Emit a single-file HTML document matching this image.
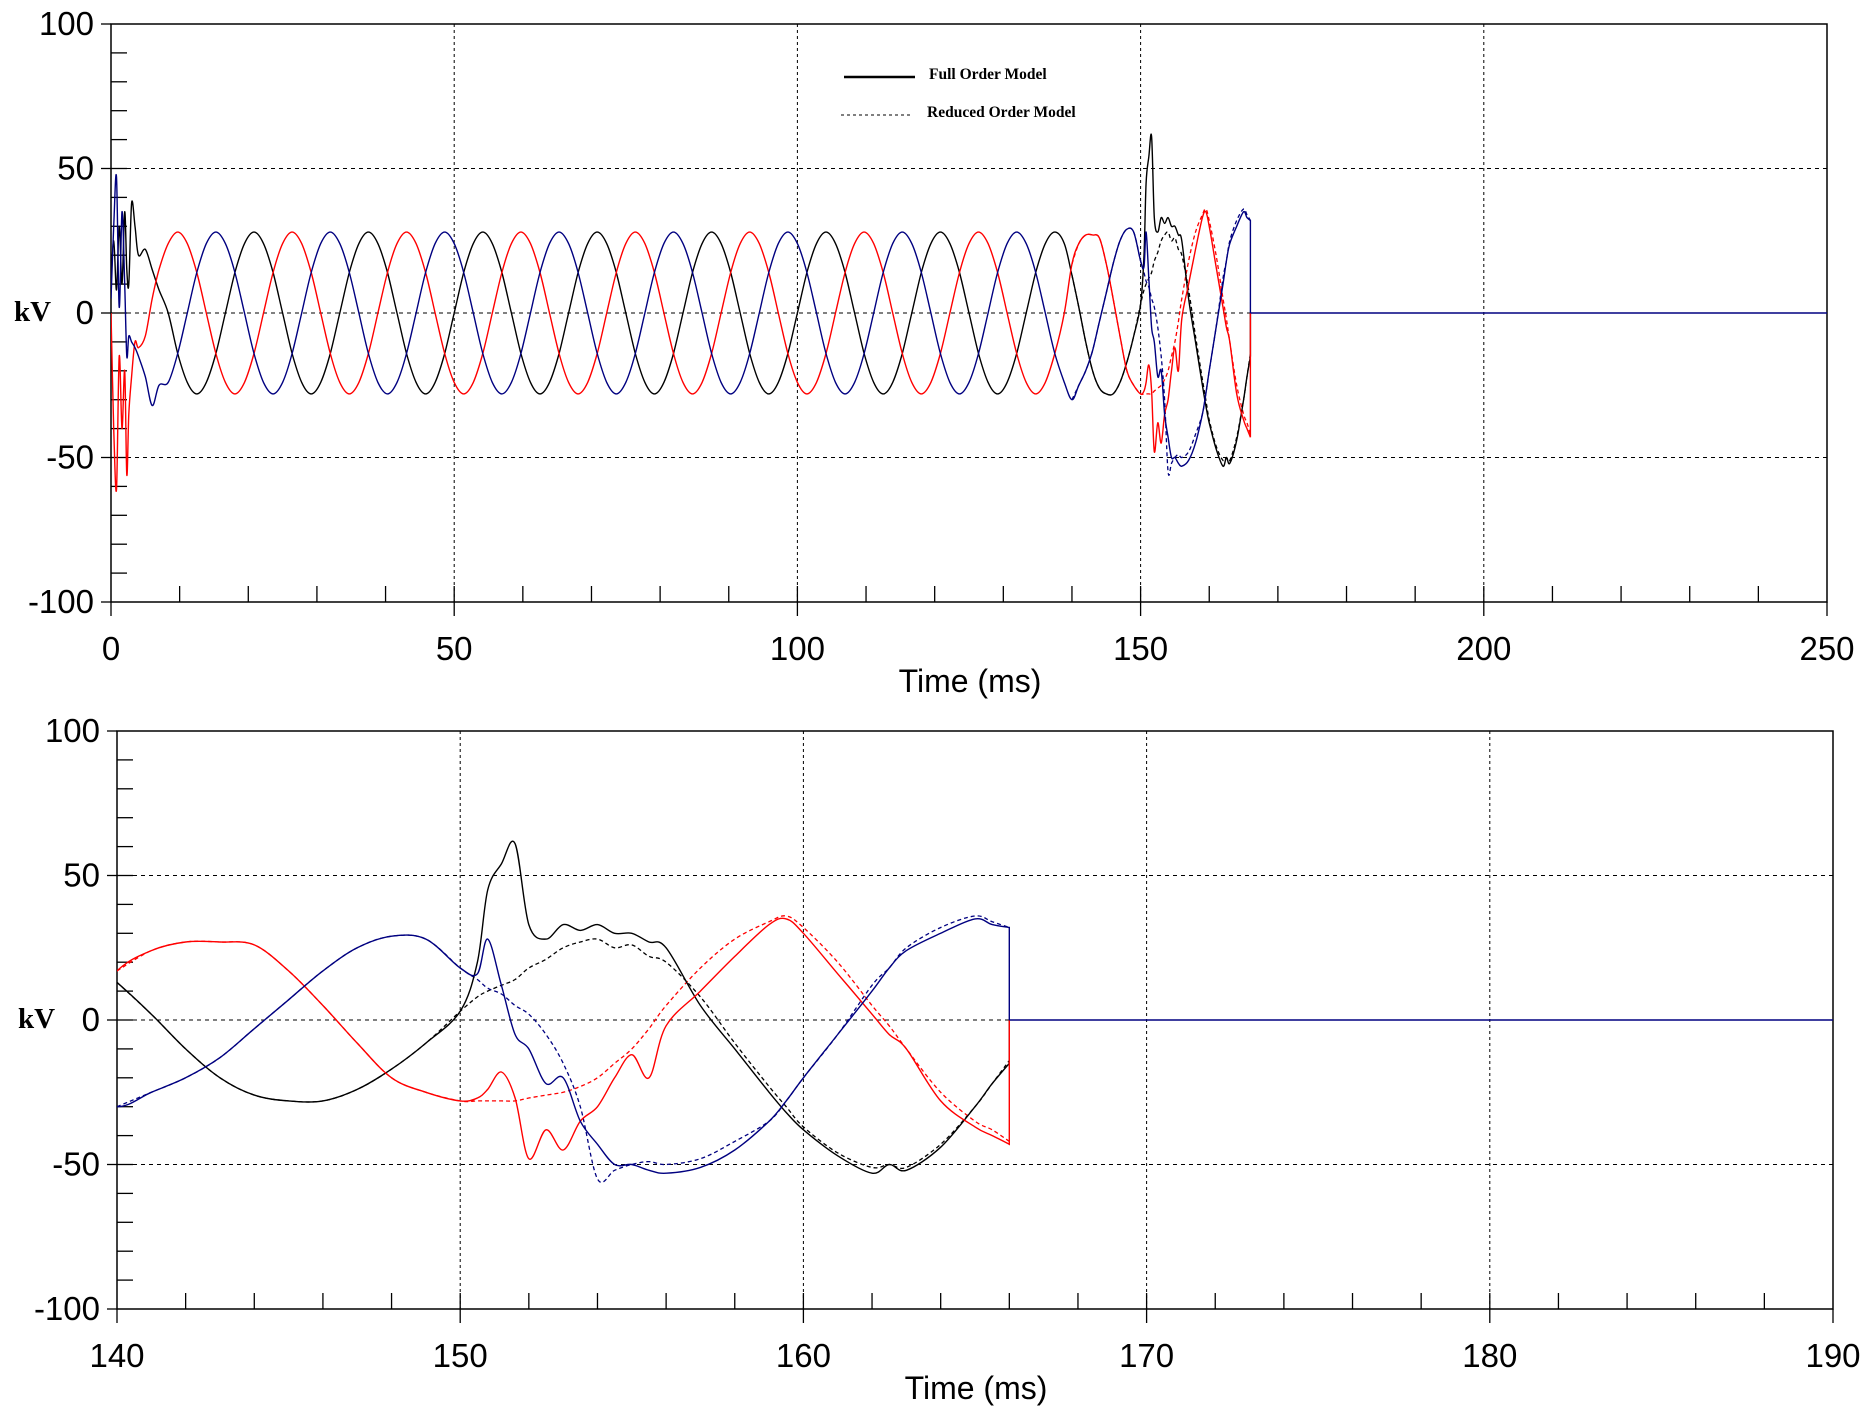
<!DOCTYPE html>
<html><head><meta charset="utf-8"><style>
html,body{margin:0;padding:0;background:#fff;}
svg{display:block;}
.tick{font-family:"Liberation Sans",sans-serif;font-size:33px;fill:#000;}
.ttl{font-family:"Liberation Sans",sans-serif;font-size:32px;fill:#000;}
.kv{font-family:"Liberation Serif",serif;font-size:29px;font-weight:bold;fill:#000;}
.leg{font-family:"Liberation Serif",serif;font-size:15.5px;font-weight:bold;fill:#000;}
</style></head><body>
<svg id="chart" width="1870" height="1420" viewBox="0 0 1870 1420" xmlns="http://www.w3.org/2000/svg">
<defs>
<clipPath id="clipTop"><rect x="111" y="24" width="1716" height="578"/></clipPath>
<clipPath id="clipBot"><rect x="117" y="731" width="1716" height="578"/></clipPath>
</defs>
<g id="top"></g>
<g id="bot"></g>
<g>
<line x1="844" y1="77" x2="915" y2="77" stroke="#000" stroke-width="2.5"/>
<text x="929" y="79" class="leg">Full Order Model</text>
<line x1="841" y1="115" x2="912" y2="115" stroke="#000" stroke-width="1" stroke-dasharray="3,3"/>
<text x="927" y="117" class="leg">Reduced Order Model</text>
</g>
</svg>
<script>
// ---------- DATA ----------
const tEarly = [0,0.4,0.8,1.2,1.6,2,2.3,2.6,3,3.5,4,5,6,7];
const blackEarly = [10,25,8,30,10,35,15,10,38,30,20,22,15,8];
const redEarly   = [0,-40,-61,-15,-40,-20,-56,-35,-22,-10,-12,-8,5,15];
const blueEarly  = [5,30,47,2,35,10,-15,-8,-10,-12,-15,-22,-32,-25];
const steadyStartMs = 8.333;
const steadyStepMs = 1.3889;
const blackSteady = [0,-14,-24,-28,-24,-14,
 0,14,24,28,24,14,0,-14,-24,-28,-24,-14,
 0,14,24,28,24,14,0,-14,-24,-28,-24,-14,
 0,14,24,28,24,14,0,-14,-24,-28,-24,-14,
 0,14,24,28,24,14,0,-14,-24,-28,-24,-14,
 0,14,24,28,24,14,0,-14,-24,-28,-24,-14,
 0,14,24,28,24,14,0,-14,-24,-28,-24,-14,
 0,14,24,28,24,14,0,-14,-24,-28,-24,-14,
 0,14,24,28,24];
const redSteady = [24,28,24,14,0,-14,
 -24,-28,-24,-14,0,14,24,28,24,14,0,-14,
 -24,-28,-24,-14,0,14,24,28,24,14,0,-14,
 -24,-28,-24,-14,0,14,24,28,24,14,0,-14,
 -24,-28,-24,-14,0,14,24,28,24,14,0,-14,
 -24,-28,-24,-14,0,14,24,28,24,14,0,-14,
 -24,-28,-24,-14,0,14,24,28,24,14,0,-14,
 -24,-28,-24,-14,0,14,24,28,24,14,0,-14,
 -24,-28,-24,-14,0];
const blueSteady = [-24,-14,0,14,24,28,
 24,14,0,-14,-24,-28,-24,-14,0,14,24,28,
 24,14,0,-14,-24,-28,-24,-14,0,14,24,28,
 24,14,0,-14,-24,-28,-24,-14,0,14,24,28,
 24,14,0,-14,-24,-28,-24,-14,0,14,24,28,
 24,14,0,-14,-24,-28,-24,-14,0,14,24,28,
 24,14,0,-14,-24,-28,-24,-14,0,14,24,28,
 24,14,0,-14,-24,-28,-24,-14,0,14,24,28,
 24,14,0,-14,-24];
const tDetail = [140,141,142,143,144,145,146,147,148,149,150,150.5,150.8,151.2,151.6,152,152.5,153,153.5,154,154.5,155,155.5,156,157,158,159,159.5,160,161,162,162.5,163,164,165,165.5,166];
const blackFull = [13,2,-10,-20,-26,-28,-28,-24,-17,-8,3,20,45,54,61,33,28,33,31,33,30,30,27,25,5,-10,-25,-32,-38,-47,-53,-50,-52,-44,-30,-22,-15];
const blackReduced = [13,2,-10,-20,-26,-28,-28,-24,-17,-8,3,8,10,12,14,18,21,25,27,28,25,26,22,20,8,-8,-23,-30,-37,-46,-51,-50,-51,-43,-30,-22,-14];
const redFull = [17,24,27,27,26,17,5,-8,-20,-25,-28,-27,-24,-18,-27,-48,-38,-45,-35,-30,-20,-12,-20,-2,10,22,33,35,30,16,2,-5,-10,-28,-37,-40,-43];
const redReduced = [17,24,27,27,26,17,5,-8,-20,-25,-28,-28,-28,-28,-28,-27,-26,-25,-23,-20,-15,-10,-3,5,18,28,34,36,32,20,5,-2,-10,-25,-35,-38,-42];
const blueFull = [-30,-25,-20,-13,-3,7,17,25,29,28,18,16,28,12,-5,-10,-22,-20,-35,-43,-50,-50,-52,-53,-51,-45,-35,-28,-20,-5,10,18,24,30,35,33,32];
const blueReduced = [-30,-25,-20,-13,-3,7,17,25,29,28,18,14,11,9,5,2,-5,-15,-30,-55,-52,-50,-49,-50,-48,-42,-35,-28,-20,-5,12,18,25,32,36,34,32];
const tOffMs = 166;
const xTicksTop = [0,50,100,150,200,250];
const xTicksBot = [140,150,160,170,180,190];
const yTicks = [100,50,0,-50,-100];

// ---------- helpers ----------
const NS='http://www.w3.org/2000/svg';
function mk(tag,attrs,parent){const e=document.createElementNS(NS,tag);for(const k in attrs)e.setAttribute(k,attrs[k]);parent.appendChild(e);return e;}
function steadyTimes(){const r=[];for(let i=0;i<blackSteady.length;i++)r.push(steadyStartMs+i*steadyStepMs);return r;}
function series(early,steady,detail){
  const ts=[],vs=[];
  tEarly.forEach((t,i)=>{ts.push(t);vs.push(early[i]);});
  const st=steadyTimes();
  st.forEach((t,i)=>{if(t<tDetail[0]-0.5){ts.push(t);vs.push(steady[i]);}});
  tDetail.forEach((t,i)=>{ts.push(t);vs.push(detail[i]);});
  return {ts,vs};
}
function smoothPath(pts){
  let d='M'+pts[0][0].toFixed(1)+','+pts[0][1].toFixed(1);
  for(let i=0;i<pts.length-1;i++){
    const p0=pts[Math.max(0,i-1)],p1=pts[i],p2=pts[i+1],p3=pts[Math.min(pts.length-1,i+2)];
    const c1=[p1[0]+(p2[0]-p0[0])/6,p1[1]+(p2[1]-p0[1])/6];
    const c2=[p2[0]-(p3[0]-p1[0])/6,p2[1]-(p3[1]-p1[1])/6];
    d+='C'+c1[0].toFixed(1)+','+c1[1].toFixed(1)+' '+c2[0].toFixed(1)+','+c2[1].toFixed(1)+' '+p2[0].toFixed(1)+','+p2[1].toFixed(1);
  }
  return d;
}

function panel(g,cfg){
  const {L,R,T,B,t0,t1,minorX,clip}=cfg;
  const xs=t=>L+(t-t0)/(t1-t0)*(R-L);
  const ys=v=>T+(100-v)/200*(B-T);
  const fr=mk('rect',{x:L,y:T,width:R-L,height:B-T,fill:'none',stroke:'#000','stroke-width':1.5},g);
  
  
  yTicks.forEach(v=>{ if(v===100||v===-100)return;
    const l=mk('line',{x1:L,x2:R,y1:ys(v),y2:ys(v),stroke:'#000','stroke-width':1,'stroke-dasharray':'4,4'},g);
    
    
  });
  cfg.xTicks.forEach(t=>{ if(t===t0||t===t1)return;
    const l=mk('line',{x1:xs(t),x2:xs(t),y1:T,y2:B,stroke:'#000','stroke-width':1,'stroke-dasharray':'3,3'},g);
    
    
  });
  for(let v=-90;v<=90;v+=10){
    const l=mk('line',{x1:L,x2:L+16,y1:ys(v),y2:ys(v),stroke:'#000','stroke-width':1.3},g);
    
    
  }
  yTicks.forEach(v=>{
    const l=mk('line',{x1:L-10,x2:L,y1:ys(v),y2:ys(v),stroke:'#000','stroke-width':1.3},g);
    
    
    const tx=mk('text',{x:L-17,y:ys(v)+11,'text-anchor':'end',class:'tick'},g);
    tx.textContent=String(v);
    
    
  });
  for(let t=t0+minorX;t<t1-1e-6;t+=minorX){
    const l=mk('line',{x1:xs(t),x2:xs(t),y1:B,y2:B-16,stroke:'#000','stroke-width':1.3},g);
    
    
  }
  cfg.xTicks.forEach(t=>{
    const l=mk('line',{x1:xs(t),x2:xs(t),y1:B,y2:B+14,stroke:'#000','stroke-width':1.3},g);
    
    
    const tx=mk('text',{x:xs(t),y:B+58,'text-anchor':'middle',class:'tick'},g);
    tx.textContent=String(t);
    
    
  });
  const xt=mk('text',{x:(L+R)/2+1,y:B+90,'text-anchor':'middle',class:'ttl'},g);
  xt.textContent='Time (ms)';
  
  
  const yt=mk('text',{x:cfg.kvX,y:ys(0)+8,class:'kv'},g);
  yt.textContent='kV';
  
  
  const sg=mk('g',{'clip-path':'url(#'+clip+')'},g);
  
  
  const defs=[
    ['black-full',series(blackEarly,blackSteady,blackFull),'#000'],
    ['red-full',series(redEarly,redSteady,redFull),'#ff0000'],
    ['blue-full',series(blueEarly,blueSteady,blueFull),'#000080'],
  ];
  const red=[
    ['black-reduced',blackReduced,'#000'],['red-reduced',redReduced,'#ff0000'],['blue-reduced',blueReduced,'#000080']
  ];
  red.forEach(([n,arr,c])=>{
    const pts=tDetail.map((t,i)=>[xs(t),ys(arr[i])]);
    const p=mk('path',{d:smoothPath(pts),fill:'none',stroke:c,'stroke-width':1.3,'stroke-dasharray':'4,3'},sg);
    
    
  });
  defs.forEach(([n,s,c])=>{
    const pts=s.ts.map((t,i)=>[xs(t),ys(s.vs[i])]);
    let d=smoothPath(pts);
    d+='L'+xs(tOffMs).toFixed(1)+','+ys(0).toFixed(1);
    const p=mk('path',{d:d,fill:'none',stroke:c,'stroke-width':1.4},sg);
    
    
  });
  const z=mk('line',{x1:xs(tOffMs),x2:R,y1:ys(0),y2:ys(0),stroke:'#000080','stroke-width':1.4},sg);
  
  
}
panel(document.getElementById('top'),{L:111,R:1827,T:24,B:602,t0:0,t1:250,minorX:10,xTicks:xTicksTop,clip:'clipTop',kvX:14});
panel(document.getElementById('bot'),{L:117,R:1833,T:731,B:1309,t0:140,t1:190,minorX:2,xTicks:xTicksBot,clip:'clipBot',kvX:18});
</script>
</body></html>
